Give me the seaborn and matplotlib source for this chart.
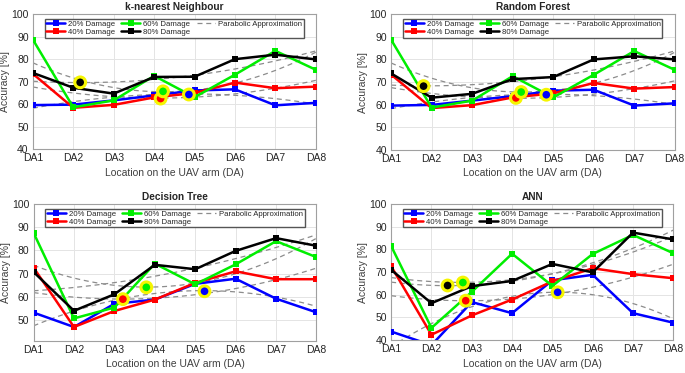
import numpy as np
import pandas as pd
import seaborn as sns
from matplotlib import pyplot as plt
from matplotlib.lines import Line2D

LOCATIONS = ["DA1", "DA2", "DA3", "DA4", "DA5", "DA6", "DA7", "DA8"]
DAMAGES = ["20% Damage", "40% Damage", "60% Damage", "80% Damage"]
COLORS = ["#0000ff", "#ff0000", "#00ee00", "#000000"]

# accuracy [%] per damage level, DA1..DA8
KNN = [
    [59.6, 59.8, 61.7, 63.9, 66.1, 66.6, 59.5, 60.6],
    [73.5, 58.4, 59.7, 63.0, 65.0, 69.6, 67.1, 67.8],
    [88.7, 58.6, 61.7, 72.6, 63.1, 73.1, 83.7, 75.3],
    [73.9, 67.3, 64.7, 72.1, 72.2, 80.0, 82.0, 79.9],
]
RF = [
    [59.6, 59.9, 61.8, 63.8, 66.2, 66.6, 59.6, 60.6],
    [73.3, 58.5, 59.8, 63.2, 65.0, 69.6, 67.1, 67.8],
    [88.7, 58.7, 61.8, 72.6, 63.2, 73.2, 83.7, 75.4],
    [73.8, 63.1, 64.8, 71.3, 72.2, 80.0, 81.4, 80.0],
]
DT = [
    [53.2, 47.0, 57.0, 58.8, 65.6, 67.8, 59.2, 53.3],
    [72.6, 47.0, 53.9, 58.8, 66.0, 71.0, 67.6, 67.6],
    [87.6, 50.7, 55.4, 74.3, 65.4, 74.0, 84.0, 77.1],
    [70.7, 54.0, 61.1, 73.8, 71.9, 79.8, 85.3, 82.0],
]
ANN = [
    [43.8, 37.8, 56.8, 51.9, 66.4, 68.8, 51.9, 47.7],
    [72.6, 42.4, 50.9, 57.9, 65.9, 71.7, 69.1, 67.3],
    [81.5, 45.4, 61.3, 78.1, 63.9, 78.0, 86.4, 78.3],
    [71.0, 56.3, 63.8, 66.1, 73.6, 69.9, 87.4, 84.4],
]

# highlighted points (location index, accuracy, damage index)
KNN_MARK = [(2.17, 69.7, 3), (4.16, 62.5, 1), (4.22, 65.7, 2), (4.86, 64.3, 0)]
RF_MARK = [(1.80, 68.2, 3), (4.08, 63.0, 1), (4.21, 65.6, 2), (4.83, 64.4, 0)]
DT_MARK = [(3.21, 59.0, 1), (3.79, 64.1, 2), (5.23, 62.4, 0)]
ANN_MARK = [(2.40, 64.1, 3), (2.78, 65.4, 2), (2.85, 57.4, 1), (5.13, 61.1, 0)]

PANELS = [
    ("k-nearest Neighbour", KNN, KNN_MARK, 40, [0.048, 0.600, 0.413, 0.362]),
    ("Random Forest", RF, RF_MARK, 40, [0.571, 0.598, 0.414, 0.364]),
    ("Decision Tree", DT, DT_MARK, 41, [0.049, 0.086, 0.413, 0.367]),
    ("ANN", ANN, ANN_MARK, 40, [0.571, 0.088, 0.412, 0.365]),
]


def to_long(values):
    rows = []
    for name, series in zip(DAMAGES, values):
        for i, v in enumerate(series):
            rows.append({"pos": i + 1, "acc": v, "damage": name})
    return pd.DataFrame(rows)


def main():
    sns.set_style("whitegrid")
    plt.rcParams["font.family"] = ["Liberation Sans", "DejaVu Sans"]
    fig = plt.figure(figsize=(6.85, 3.73), dpi=100)

    for title, values, marks, ymin, rect in PANELS:
        ax = fig.add_axes(rect)
        df = to_long(values)

        # parabolic approximations
        for name in DAMAGES:
            sub = df[df["damage"] == name]
            sns.regplot(
                data=sub, x="pos", y="acc", order=2, ci=None, scatter=False,
                truncate=True, ax=ax,
                line_kws=dict(color="#8c8c8c", ls=(0, (4, 3)), lw=0.9, zorder=2),
            )

        sns.lineplot(
            data=df, x="pos", y="acc", hue="damage", palette=COLORS,
            marker="s", markersize=4.5, markeredgewidth=0, lw=1.8,
            legend=False, ax=ax, zorder=3,
        )

        mk = pd.DataFrame(marks, columns=["pos", "acc", "idx"])
        ax.scatter(
            mk["pos"], mk["acc"], s=60, c=[COLORS[i] for i in mk["idx"]],
            edgecolors="#f5f500", linewidths=2.2, zorder=5, clip_on=False,
        )

        ax.set_xlim(1, 8)
        ax.set_ylim(ymin, 100)
        ax.set_xticks(range(1, 9))
        ax.set_xticklabels(LOCATIONS)
        ax.set_yticks(range(40 if ymin <= 40 else 50, 101, 10))
        ax.tick_params(labelsize=7.5, colors="#262626", length=0, pad=3)
        ax.set_xlabel("Location on the UAV arm (DA)", fontsize=7.5,
                      color="#404040", labelpad=3)
        ax.set_ylabel("Accuracy [%]", fontsize=7.5, color="#404040", labelpad=1)
        ax.set_title(title, fontsize=7.3, fontweight="bold", pad=3)
        ax.grid(True, color="#e4e4e4", lw=0.7)
        for s in ax.spines.values():
            s.set_color("#a0a0a0")
            s.set_linewidth(0.8)

        handles = [
            Line2D([], [], color=c, marker="s", markersize=4, lw=1.8,
                   markeredgewidth=0)
            for c in COLORS
        ]
        handles.append(Line2D([], [], color="#8c8c8c", ls=(0, (4, 3)), lw=0.9))
        ax.legend(
            handles, DAMAGES + ["Parabolic Approximation"], ncol=3,
            loc="upper center", bbox_to_anchor=(0.5, 0.995), fontsize=5.6,
            frameon=True, fancybox=False, edgecolor="#555555",
            framealpha=1, borderpad=0.2, labelspacing=0.1,
            handlelength=2.4, handletextpad=0.4, columnspacing=0.8,
        )

    fig.savefig("out.png", dpi=100)


if __name__ == "__main__":
    main()
